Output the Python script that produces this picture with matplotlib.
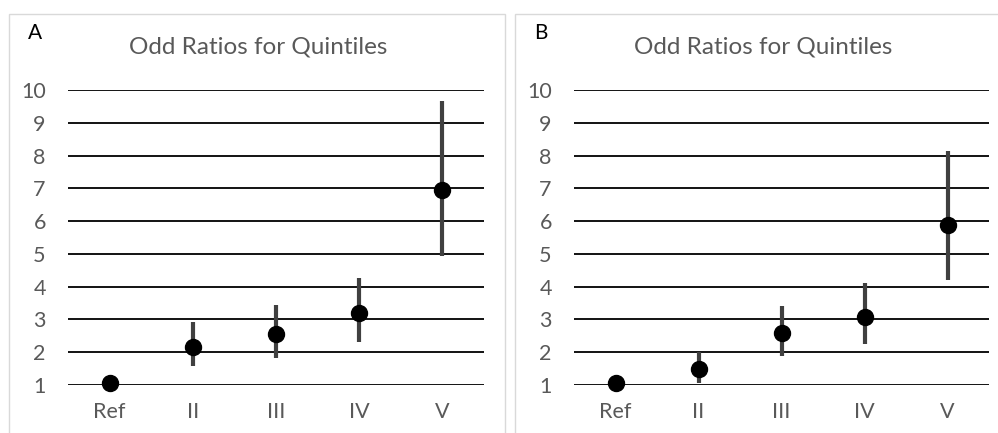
import matplotlib
matplotlib.use("Agg")
import matplotlib.pyplot as plt
from matplotlib.patches import Rectangle

categories = ["Ref", "II", "III", "IV", "V"]
yticks = [1, 2, 3, 4, 5, 6, 7, 8, 9, 10]

a_or = [1.06, 2.16, 2.57, 3.20, 6.95]
a_low = [1.06, 1.57, 1.83, 2.31, 4.93]
a_high = [1.06, 2.92, 3.43, 4.27, 9.65]

b_or = [1.05, 1.48, 2.58, 3.08, 5.87]
b_low = [1.05, 1.05, 1.89, 2.25, 4.20]
b_high = [1.05, 2.00, 3.40, 4.10, 8.15]

panels = [("A", a_or, a_low, a_high), ("B", b_or, b_low, b_high)]

W, H = 998, 433
fig = plt.figure(figsize=(W / 100, H / 100), dpi=100)
fig.patch.set_facecolor("white")

FONT = "Lato"
TXT = "#595959"

# panel borders
for x0, x1 in [(9, 505), (515, 1005)]:
    fig.patches.append(Rectangle((x0 / W, -0.05), (x1 - x0) / W, (H - 14) / H + 0.05,
                                 transform=fig.transFigure, fill=False,
                                 edgecolor="#D9D9D9", linewidth=1.0))

axes_pos = [(68, 484), (574, 989)]
letter_x = [35, 541]
title_x = [258, 763]
for (lab, orv, lo, hi), (xl, xr), lx, tx in zip(panels, axes_pos, letter_x, title_x):
    ax = fig.add_axes([xl / W, (H - 385) / H, (xr - xl) / W, (385 - 90) / H])
    x = list(range(len(categories)))
    for yv in yticks:
        ax.axhline(yv, color="black", linewidth=1.3, zorder=1)
    ax.vlines(x, lo, hi, color="#404040", linewidth=3.0, zorder=2)
    ax.plot(x, orv, "o", color="black", markersize=11.5, zorder=3, clip_on=False)
    ax.set_xlim(-0.5, len(categories) - 0.5)
    ax.set_ylim(1, 10)
    ax.set_xticks(x)
    ax.set_xticklabels(categories)
    ax.set_yticks(yticks)
    ax.set_yticklabels([str(v) for v in yticks])
    ax.tick_params(axis="both", length=0, colors=TXT, labelsize=15.5)
    ax.tick_params(axis="y", pad=16)
    ax.tick_params(axis="x", pad=12)
    for t in ax.get_xticklabels() + ax.get_yticklabels():
        t.set_fontfamily(FONT)
    for s in ax.spines.values():
        s.set_visible(False)
    ax.set_facecolor("none")
    fig.text(lx / W, 1 - 33 / H, lab, ha="center", va="center", fontsize=15,
             color="black", family=FONT)
    fig.text(tx / W, 1 - 47 / H, "Odd Ratios for Quintiles", ha="center", va="center",
             fontsize=17.5, color=TXT, family=FONT)

fig.savefig("out.png", dpi=100)
